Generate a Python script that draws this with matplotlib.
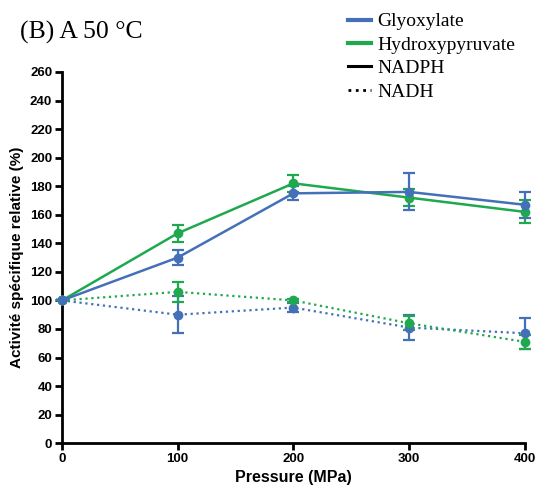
import matplotlib.pyplot as plt
from matplotlib.lines import Line2D

pressure = [0, 100, 200, 300, 400]

# NADPH (solid)
glyox_nadph = [100, 130, 175, 176, 167]
glyox_nadph_err = [0, 5, 5, 13, 9]
hydro_nadph = [100, 147, 182, 172, 162]
hydro_nadph_err = [0, 6, 6, 6, 8]

# NADH (dotted)
glyox_nadh = [100, 90, 95, 81, 77]
glyox_nadh_err = [0, 13, 3, 9, 11]
hydro_nadh = [100, 106, 100, 84, 71]
hydro_nadh_err = [0, 7, 1, 5, 5]

blue = '#4470b8'
green = '#1fa94f'

plt.rcParams['font.family'] = ['Liberation Sans', 'DejaVu Sans']

fig = plt.figure(figsize=(5.53, 4.93), dpi=100)
ax = fig.add_axes([0.112, 0.101, 0.837, 0.753])

def draw(y, err, color, ls, lw):
    ax.errorbar(pressure, y, yerr=err, color=color, ls=ls, lw=lw,
                marker='o', markersize=6, capsize=4, elinewidth=1.6,
                capthick=1.6, clip_on=False, zorder=3)

draw(glyox_nadh, glyox_nadh_err, blue, ':', 1.6)
draw(hydro_nadh, hydro_nadh_err, green, ':', 1.6)
draw(hydro_nadph, hydro_nadph_err, green, '-', 1.8)
draw(glyox_nadph, glyox_nadph_err, blue, '-', 1.8)

ax.set_xlim(0, 400)
ax.set_ylim(0, 260)
ax.set_xticks([0, 100, 200, 300, 400])
ax.set_yticks(range(0, 261, 20))
for s in ['top', 'right']:
    ax.spines[s].set_visible(False)
for s in ['left', 'bottom']:
    ax.spines[s].set_linewidth(2)
ax.tick_params(width=2, length=5, labelsize=9.5, pad=2)
for lab in ax.get_xticklabels() + ax.get_yticklabels():
    lab.set_fontweight('bold')

ax.set_xlabel('Pressure (MPa)', fontsize=11.5, fontweight='bold')
ax.set_ylabel('Activité spécifique relative (%)', fontsize=11, fontweight='bold')

fig.text(0.036, 0.935, '(B) A 50 °C', family='Liberation Serif', fontsize=18.5,
         va='center')

handles = [
    Line2D([], [], color=blue, lw=3),
    Line2D([], [], color=green, lw=3),
    Line2D([], [], color='black', lw=2.2),
    Line2D([], [], color='black', lw=2, ls=':'),
]
labels = ['Glyoxylate', 'Hydroxypyruvate', 'NADPH', 'NADH']
fig.legend(handles, labels, loc='upper left', bbox_to_anchor=(0.615, 0.99),
           frameon=False, prop={'family': 'Liberation Serif', 'size': 14},
           handlelength=1.2, handletextpad=0.3, labelspacing=0.3,
           borderaxespad=0)

fig.savefig('out.png', dpi=100)
